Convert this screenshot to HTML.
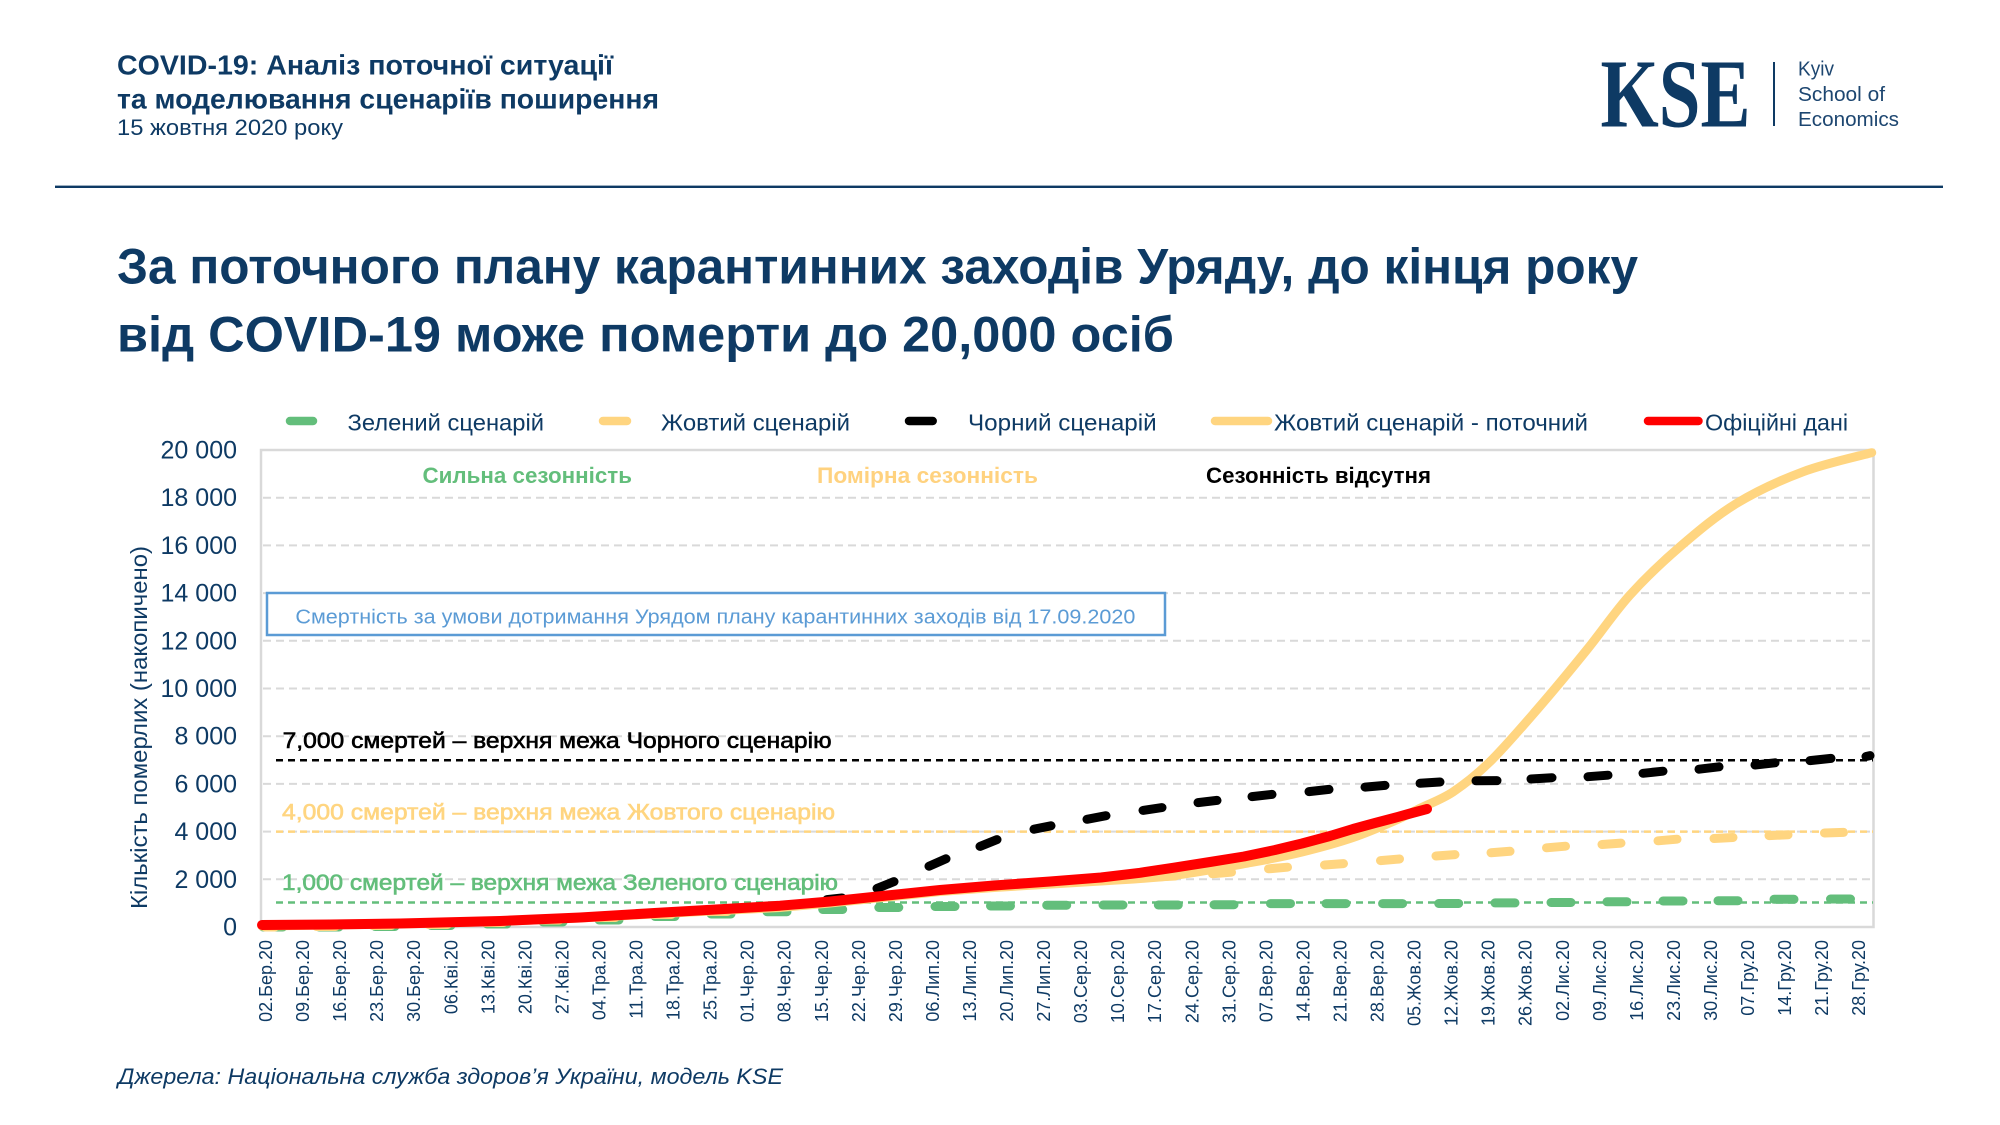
<!DOCTYPE html>
<html><head><meta charset="utf-8"><style>
html,body{margin:0;padding:0;background:#fff;}
svg{display:block;}
text{font-family:"Liberation Sans","DejaVu Sans",sans-serif;}
</style></head><body>
<svg width="2000" height="1125" viewBox="0 0 2000 1125" xmlns="http://www.w3.org/2000/svg">
<rect width="2000" height="1125" fill="#fff"/>
<!-- Header -->
<g fill="#0e3a64">
<text x="117" y="74.3" font-size="28" font-weight="bold" textLength="496" lengthAdjust="spacingAndGlyphs">COVID-19: Аналіз поточної ситуації</text>
<text x="117" y="108.3" font-size="28" font-weight="bold" textLength="542" lengthAdjust="spacingAndGlyphs">та моделювання сценаріїв поширення</text>
<text x="117" y="135" font-size="22" textLength="226" lengthAdjust="spacingAndGlyphs">15 жовтня 2020 року</text>
</g>
<!-- Logo -->
<text x="1600.5" y="126.7" font-size="98" font-weight="bold" fill="#0e3a64" style="font-family:'Liberation Serif','DejaVu Serif',serif" textLength="150" lengthAdjust="spacingAndGlyphs">KSE</text>
<rect x="1773" y="62" width="2" height="64" fill="#0e3a64"/>
<g fill="#1d4670" font-size="20">
<text x="1798" y="75.7" textLength="36" lengthAdjust="spacingAndGlyphs">Kyiv</text>
<text x="1798" y="101" textLength="87" lengthAdjust="spacingAndGlyphs">School of</text>
<text x="1798" y="126" textLength="101" lengthAdjust="spacingAndGlyphs">Economics</text>
</g>
<rect x="55" y="185.6" width="1888" height="2.4" fill="#0e3a64"/>
<!-- Title -->
<g fill="#0e3a64" font-weight="bold" font-size="50">
<text x="117" y="283.3" textLength="1521" lengthAdjust="spacingAndGlyphs">За поточного плану карантинних заходів Уряду, до кінця року</text>
<text x="117" y="351.7" textLength="1057" lengthAdjust="spacingAndGlyphs">від COVID-19 може померти до 20,000 осіб</text>
</g>
<!-- Legend -->
<g stroke-width="8.5" stroke-linecap="round">
<line x1="290" y1="421" x2="313" y2="421" stroke="#63be7b"/>
<line x1="603" y1="421" x2="627" y2="421" stroke="#ffd580"/>
<line x1="909" y1="421" x2="932.7" y2="421" stroke="#000"/>
<line x1="1215" y1="421" x2="1268" y2="421" stroke="#ffd580"/>
<line x1="1648" y1="421" x2="1698.5" y2="421" stroke="#ff0000"/>
</g>
<g fill="#0e3a64" font-size="23">
<text x="347.5" y="430.5" textLength="196.5" lengthAdjust="spacingAndGlyphs">Зелений сценарій</text>
<text x="661" y="430.5" textLength="189" lengthAdjust="spacingAndGlyphs">Жовтий сценарій</text>
<text x="968" y="430.5" textLength="188.7" lengthAdjust="spacingAndGlyphs">Чорний сценарій</text>
<text x="1274" y="430.5" textLength="314" lengthAdjust="spacingAndGlyphs">Жовтий сценарій - поточний</text>
<text x="1705" y="430.5" textLength="143" lengthAdjust="spacingAndGlyphs">Офіційні дані</text>
</g>
<!-- Gridlines -->
<g stroke="#d9d9d9" stroke-width="2" stroke-dasharray="8 5">
<line x1="263" y1="879.3" x2="1872" y2="879.3"/>
<line x1="263" y1="831.6" x2="1872" y2="831.6"/>
<line x1="263" y1="783.9" x2="1872" y2="783.9"/>
<line x1="263" y1="736.2" x2="1872" y2="736.2"/>
<line x1="263" y1="688.5" x2="1872" y2="688.5"/>
<line x1="263" y1="640.8" x2="1872" y2="640.8"/>
<line x1="263" y1="593.1" x2="1872" y2="593.1"/>
<line x1="263" y1="545.4" x2="1872" y2="545.4"/>
<line x1="263" y1="497.7" x2="1872" y2="497.7"/>
</g>
<rect x="261" y="450" width="1612.5" height="477" fill="none" stroke="#d9d9d9" stroke-width="2.5"/>
<!-- Y tick labels -->
<g fill="#0e3a64" font-size="25" text-anchor="end">
<text x="237" y="935.5">0</text>
<text x="237" y="887.8">2 000</text>
<text x="237" y="840.1">4 000</text>
<text x="237" y="792.4">6 000</text>
<text x="237" y="744.7">8 000</text>
<text x="237" y="697">10 000</text>
<text x="237" y="649.3">12 000</text>
<text x="237" y="601.6">14 000</text>
<text x="237" y="553.9">16 000</text>
<text x="237" y="506.2">18 000</text>
<text x="237" y="458.5">20 000</text>
</g>
<text transform="translate(147,727.5) rotate(-90)" text-anchor="middle" fill="#0e3a64" font-size="23" textLength="363" lengthAdjust="spacingAndGlyphs">Кількість померлих (накопичено)</text>
<!-- Season labels -->
<g font-weight="bold" font-size="22">
<text x="422.5" y="483" fill="#63be7b" textLength="209.5" lengthAdjust="spacingAndGlyphs">Сильна сезонність</text>
<text x="817" y="483" fill="#ffd27f" textLength="221" lengthAdjust="spacingAndGlyphs">Помірна сезонність</text>
<text x="1206" y="483" fill="#000" textLength="225" lengthAdjust="spacingAndGlyphs">Сезонність відсутня</text>
</g>
<!-- Box -->
<rect x="267" y="593" width="898" height="42" fill="#fff" stroke="#5b9bd5" stroke-width="2.5"/>
<text x="295.4" y="623.3" fill="#5b9bd5" font-size="20" textLength="840" lengthAdjust="spacingAndGlyphs">Смертність за умови дотримання Урядом плану карантинних заходів від 17.09.2020</text>
<!-- Threshold lines -->
<line x1="276" y1="760.3" x2="1873" y2="760.3" stroke="#000" stroke-width="2.5" stroke-dasharray="7 5"/>
<line x1="276" y1="831.6" x2="1873" y2="831.6" stroke="#ffd580" stroke-width="2.5" stroke-dasharray="7 5"/>
<line x1="276" y1="902.5" x2="1873" y2="902.5" stroke="#63be7b" stroke-width="2.5" stroke-dasharray="7 5"/>
<g font-size="22" stroke-width="0.6">
<text x="282.6" y="748" fill="#000" stroke="#000" textLength="549" lengthAdjust="spacingAndGlyphs">7,000 смертей – верхня межа Чорного сценарію</text>
<text x="282" y="819.6" fill="#ffd580" stroke="#ffd580" textLength="553" lengthAdjust="spacingAndGlyphs">4,000 смертей – верхня межа Жовтого сценарію</text>
<text x="282" y="890" fill="#63be7b" stroke="#63be7b" textLength="556" lengthAdjust="spacingAndGlyphs">1,000 смертей – верхня межа Зеленого сценарію</text>
</g>
<!-- Green scenario dashes -->
<path fill="none" stroke="#63be7b" stroke-width="9" stroke-linecap="round" d="
M263,927 L283,927 M319,927 L339,927 M375,926.5 L395,926.5 M431,925.5 L451,925.5 M487,924 L507,924 M543,922 L563,922 M599,920 L619,920 M655,916.5 L675,916.5 M711,914 L731,914 M767,911.7 L787,911.7 M822.7,909.5 L842.7,909.5 M878.8,907.5 L898.8,907.5 M935,906.5 L955,906.5 M990.5,906 L1010.5,906 M1046.7,905.2 L1066.7,905.2 M1103,905 L1123,905 M1158.3,905 L1178.3,905 M1214,904.7 L1234,904.7 M1270.5,903.6 L1290.5,903.6 M1326,903.6 L1346,903.6 M1382.6,903.6 L1402.6,903.6 M1438.7,903.5 L1458.7,903.5 M1495,902.9 L1515,902.9 M1551,902.5 L1571,902.5 M1607,901.8 L1627,901.8 M1663,901 L1683,901 M1718,900.7 L1738,900.7 M1774,899.3 L1794,899.3 M1830.5,899 L1850.5,899"/>
<!-- Yellow scenario dashes -->
<path fill="none" stroke="#ffd580" stroke-width="9" stroke-linecap="round" d="
M265,927 L275,927 M316.5,926.5 L335.5,926.5 M372.5,925.5 L391.5,925.5 M428.5,924.5 L447.5,924.5 M484.5,922.5 L503.5,922.5 M540.5,920 L559.5,920 M596.5,917.5 L615.5,917.5 M652.5,914.5 L671.5,914.5 M708.5,911.5 L727.5,911.5 M764.5,907.5 L783.5,906.5 M820.5,902 L839.5,900.5 M876.5,896 L895.5,894.5 M932.5,890.5 L951.5,889.5 M988.5,886.5 L1007.5,885.5 M1044.5,883 L1063.5,882 M1100.5,880 L1119.5,879 M1156.5,877 L1175.5,876 M1212.5,873.8 L1231.5,872.2 M1268.5,868.8 L1287.5,867.2 M1324.5,865 L1343.5,863.6 M1380.5,860.6 L1399.5,859 M1436,856 L1455,854.6 M1491,852.7 L1510,851.3 M1546.5,847.8 L1565.5,846.2 M1602,844.5 L1621,843.1 M1658,840.8 L1677,839.2 M1714,838.5 L1733,837.5 M1769,835.6 L1788,834.8 M1824.5,833 L1843.5,832.4"/>
<!-- Yellow current (solid) -->
<path fill="none" stroke="#ffd580" stroke-width="9" stroke-linejoin="round" stroke-linecap="round" d="
M262,926 L400,924 L500,921.5 L580,918 L663,913.5 L720,910.5 L780,907.5 L830,903 L887,897 L940,891.5 L994,887.5 L1101,881
C1130.8,879 1148,878.6 1173,875.5
C1198,872.4 1229.5,866.4 1251,862.5
C1272.5,858.6 1285,856.2 1302,852
C1319,847.8 1337.7,842.7 1353,837.5
C1368.3,832.3 1382.8,825.9 1394,821
C1405.2,816.1 1410.1,813.2 1420,808.3
C1429.9,803.4 1441.6,799.5 1453.3,791.7
C1465,783.9 1476.1,775.3 1490,761.7
C1503.9,748.1 1520.6,728.6 1536.7,710
C1552.8,691.4 1571.2,669.2 1586.7,650
C1602.3,630.8 1614.5,612.2 1630,595
C1645.6,577.8 1662.2,562 1680,546.7
C1697.8,531.4 1716.2,515.8 1736.7,503.3
C1757.3,490.8 1780.8,480.1 1803.3,471.7
C1825.8,463.3 1860.3,455.9 1871.7,452.7"/>
<!-- Black scenario dashes -->
<path fill="none" stroke="#000" stroke-width="9" stroke-linecap="round" d="
M827,899.6 L842,898 M877,888.4 L894,881.6 M929,866.2 L946,858.8 M980,846.4 L997,839.6 M1034,829.2 L1051,825.8 M1087,819.3 L1106,815.7 M1143,810.4 L1162,807.6 M1198,802.6 L1217,800.4 M1252,796.6 L1272,794.4 M1309,791.6 L1329,789.4 M1365,787.1 L1385,785.4 M1420,783.3 L1440,782 M1476,780.8 L1497,780.6 M1531,779 L1552,777.7 M1588,776.7 L1608,775.2 M1643,773.3 L1663,771.2 M1699,769.2 L1719,766.8 M1755,765 L1775,762.8 M1810,760.6 L1831,758.4 M1866,756.5 L1870,755.6"/>
<!-- Official data (red) -->
<polyline fill="none" stroke="#ff0000" stroke-width="10" stroke-linejoin="round" stroke-linecap="round" points="
262,925 330,924.5 400,923.5 500,921 580,917.5 663,912.5 720,909.3 780,905.7 830,901.5 887,895.5 940,890 994,885.5 1050,881.5 1101,877.5 1140,872.8 1173,867.8 1210,862 1244,856.5 1275,850 1302,843.5 1330,836 1353,829 1375,823 1394,818 1412,813 1427,809"/>
<!-- X labels -->
<g fill="#0e3a64" font-size="18" text-anchor="end">
<text transform="translate(272,940) rotate(-90)">02.Бер.20</text>
<text transform="translate(309.05,940) rotate(-90)">09.Бер.20</text>
<text transform="translate(346.1,940) rotate(-90)">16.Бер.20</text>
<text transform="translate(383.15,940) rotate(-90)">23.Бер.20</text>
<text transform="translate(420.2,940) rotate(-90)">30.Бер.20</text>
<text transform="translate(457.25,940) rotate(-90)">06.Кві.20</text>
<text transform="translate(494.3,940) rotate(-90)">13.Кві.20</text>
<text transform="translate(531.35,940) rotate(-90)">20.Кві.20</text>
<text transform="translate(568.4,940) rotate(-90)">27.Кві.20</text>
<text transform="translate(605.45,940) rotate(-90)">04.Тра.20</text>
<text transform="translate(642.5,940) rotate(-90)">11.Тра.20</text>
<text transform="translate(679.55,940) rotate(-90)">18.Тра.20</text>
<text transform="translate(716.6,940) rotate(-90)">25.Тра.20</text>
<text transform="translate(753.65,940) rotate(-90)">01.Чер.20</text>
<text transform="translate(790.7,940) rotate(-90)">08.Чер.20</text>
<text transform="translate(827.75,940) rotate(-90)">15.Чер.20</text>
<text transform="translate(864.8,940) rotate(-90)">22.Чер.20</text>
<text transform="translate(901.85,940) rotate(-90)">29.Чер.20</text>
<text transform="translate(938.9,940) rotate(-90)">06.Лип.20</text>
<text transform="translate(975.95,940) rotate(-90)">13.Лип.20</text>
<text transform="translate(1013,940) rotate(-90)">20.Лип.20</text>
<text transform="translate(1050.05,940) rotate(-90)">27.Лип.20</text>
<text transform="translate(1087.1,940) rotate(-90)">03.Сер.20</text>
<text transform="translate(1124.15,940) rotate(-90)">10.Сер.20</text>
<text transform="translate(1161.2,940) rotate(-90)">17.Сер.20</text>
<text transform="translate(1198.25,940) rotate(-90)">24.Сер.20</text>
<text transform="translate(1235.3,940) rotate(-90)">31.Сер.20</text>
<text transform="translate(1272.35,940) rotate(-90)">07.Вер.20</text>
<text transform="translate(1309.4,940) rotate(-90)">14.Вер.20</text>
<text transform="translate(1346.45,940) rotate(-90)">21.Вер.20</text>
<text transform="translate(1383.5,940) rotate(-90)">28.Вер.20</text>
<text transform="translate(1420.55,940) rotate(-90)">05.Жов.20</text>
<text transform="translate(1457.6,940) rotate(-90)">12.Жов.20</text>
<text transform="translate(1494.65,940) rotate(-90)">19.Жов.20</text>
<text transform="translate(1531.7,940) rotate(-90)">26.Жов.20</text>
<text transform="translate(1568.75,940) rotate(-90)">02.Лис.20</text>
<text transform="translate(1605.8,940) rotate(-90)">09.Лис.20</text>
<text transform="translate(1642.85,940) rotate(-90)">16.Лис.20</text>
<text transform="translate(1679.9,940) rotate(-90)">23.Лис.20</text>
<text transform="translate(1716.95,940) rotate(-90)">30.Лис.20</text>
<text transform="translate(1754,940) rotate(-90)">07.Гру.20</text>
<text transform="translate(1791.05,940) rotate(-90)">14.Гру.20</text>
<text transform="translate(1828.1,940) rotate(-90)">21.Гру.20</text>
<text transform="translate(1865.15,940) rotate(-90)">28.Гру.20</text>
</g>
<!-- Source -->
<text x="118" y="1084" fill="#0e3a64" font-size="22" font-style="italic" textLength="665" lengthAdjust="spacingAndGlyphs">Джерела: Національна служба здоров’я України, модель KSE</text>
</svg>
</body></html>
